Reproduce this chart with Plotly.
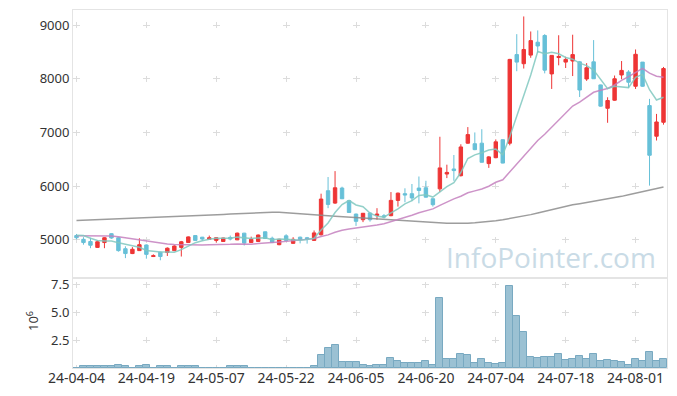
import plotly.graph_objects as go

dates = [
    "24-04-04", "24-04-05", "24-04-08", "24-04-09", "24-04-11", "24-04-12", "24-04-15", "24-04-16",
    "24-04-17", "24-04-18", "24-04-19", "24-04-22", "24-04-23", "24-04-24", "24-04-25", "24-04-26",
    "24-04-29", "24-04-30", "24-05-02", "24-05-03", "24-05-07", "24-05-08", "24-05-09", "24-05-10",
    "24-05-13", "24-05-14", "24-05-16", "24-05-17", "24-05-20", "24-05-21", "24-05-22", "24-05-23",
    "24-05-24", "24-05-27", "24-05-28", "24-05-29", "24-05-30", "24-05-31", "24-06-03", "24-06-04",
    "24-06-05", "24-06-07", "24-06-10", "24-06-11", "24-06-12", "24-06-13", "24-06-14", "24-06-17",
    "24-06-18", "24-06-19", "24-06-20", "24-06-21", "24-06-24", "24-06-25", "24-06-26", "24-06-27",
    "24-06-28", "24-07-01", "24-07-02", "24-07-03", "24-07-04", "24-07-05", "24-07-08", "24-07-09",
    "24-07-10", "24-07-11", "24-07-12", "24-07-15", "24-07-16", "24-07-17", "24-07-18", "24-07-19",
    "24-07-22", "24-07-23", "24-07-24", "24-07-25", "24-07-26", "24-07-29", "24-07-30", "24-07-31",
    "24-08-01", "24-08-02", "24-08-05", "24-08-06", "24-08-07",
]

open_p = [
    5080, 5010, 4970, 4860, 4950, 5115, 5040, 4835, 4745, 4800,
    4905, 4690, 4770, 4765, 4800, 4860, 4950, 5080, 5050, 5010,
    4990, 4970, 5045, 5000, 5125, 4950, 4970, 5150, 5030, 4910,
    5075, 4935, 5050, 5040, 4990, 5095, 5915, 5685, 5965, 5730,
    5480, 5375, 5500, 5455, 5450, 5450, 5735, 5860, 5860, 5965,
    5970, 5765, 5950, 6226, 6320, 6195, 6800, 6790, 6800, 6420,
    6530, 6865, 6800, 8450, 8280, 8440, 8680, 8805, 8090, 8395,
    8310, 8330, 8315, 7995, 8315, 7885, 7450, 7600, 8070, 8125,
    7860, 8310, 7500, 6930, 7190,
]
high_p = [
    5110, 5050, 5040, 4990, 5050, 5125, 5050, 4880, 4865, 5030,
    4915, 4730, 4780, 4860, 4900, 4980, 5065, 5085, 5055, 5080,
    5045, 5040, 5080, 5135, 5130, 5060, 5100, 5155, 5060, 5020,
    5105, 5050, 5060, 5055, 5175, 5860, 6170, 6280, 5990, 5740,
    5490, 5500, 5510, 5590, 5480, 5890, 5880, 5960, 6040, 6180,
    6100, 5770, 6920, 6400, 6580, 6780, 7100, 7000, 7060, 6560,
    6870, 6870, 8370, 8830, 9160, 8880, 8900, 8830, 8440, 8810,
    8410, 8820, 8330, 8290, 8720, 7890, 7655, 8060, 8330, 8160,
    8545, 8310, 7625, 7345, 8220,
]
low_p = [
    5010, 4910, 4845, 4850, 4845, 5020, 4780, 4660, 4735, 4795,
    4650, 4680, 4620, 4700, 4790, 4690, 4945, 4985, 4985, 5000,
    4950, 4965, 4990, 4995, 4895, 4945, 4965, 5020, 4940, 4900,
    4985, 4930, 4935, 4930, 4985, 5080, 5590, 5670, 5760, 5500,
    5260, 5330, 5340, 5375, 5400, 5440, 5620, 5700, 5720, 5680,
    5790, 5620, 5890, 6150, 6100, 6180, 6790, 6670, 6440, 6340,
    6520, 6425, 6760, 8140, 8190, 8390, 8480, 8100, 7810, 8250,
    8200, 8050, 7660, 7960, 7995, 7480, 7180, 7590, 7990, 7830,
    7810, 7850, 6010, 6850, 7145,
]
close_p = [
    5040, 4950, 4900, 4965, 5040, 5035, 4800, 4745, 4825, 4910,
    4730, 4705, 4690, 4845, 4885, 4965, 5055, 4990, 5015, 5040,
    5040, 5035, 5015, 5125, 4940, 5010, 5090, 5025, 4950, 5010,
    4990, 5010, 5005, 5020, 5130, 5760, 5660, 5970, 5765, 5510,
    5345, 5495, 5375, 5480, 5425, 5735, 5870, 5835, 5780, 5920,
    5795, 5655, 6340, 6256, 6290, 6730, 6960, 6680, 6445, 6545,
    6825, 6430, 8360, 8310, 8545, 8710, 8610, 8160, 8435, 8415,
    8360, 8450, 7790, 8205, 8000, 7490, 7595, 8000, 8155, 7935,
    8455, 7860, 6575, 7195, 8190,
]

ma5 = [
    5085, 5080, 5030, 4990, 4979, 4978, 4948, 4917, 4889, 4863,
    4802, 4783, 4772, 4776, 4771, 4818, 4888, 4948, 4982, 5013,
    5028, 5024, 5029, 5051, 5031, 5025, 5036, 5038, 5003, 5017,
    5013, 4997, 4993, 5007, 5031, 5185, 5315, 5508, 5657, 5733,
    5650, 5617, 5498, 5441, 5424, 5502, 5577, 5669, 5729, 5828,
    5840, 5797, 5898, 5993, 6067, 6254, 6515, 6583, 6621, 6672,
    6691, 6585, 6921, 7294, 7694, 8071, 8507, 8467, 8492, 8466,
    8396, 8364, 8290, 8244, 8161, 7987, 7816, 7858, 7848, 7835,
    8028, 8081, 7796, 7604, 7655,
]
ma20 = [
    5075, 5075, 5075, 5075, 5075, 5072, 5060, 5040, 5015, 4990,
    4970, 4950, 4935, 4922, 4915, 4910, 4908, 4907, 4906, 4907,
    4907, 4911, 4917, 4925, 4920, 4918, 4933, 4947, 4953, 4958,
    4971, 4986, 5002, 5011, 5023, 5063, 5093, 5142, 5180, 5203,
    5218, 5241, 5259, 5277, 5301, 5338, 5377, 5417, 5459, 5504,
    5544, 5577, 5643, 5705, 5763, 5812, 5877, 5912, 5946, 5998,
    6072, 6119, 6268, 6409, 6565, 6714, 6851, 6967, 7100, 7225,
    7353, 7493, 7565, 7663, 7748, 7786, 7818, 7884, 7970, 8039,
    8121, 8192, 8103, 8047, 8029,
]
ma_long = [
    5360, 5365, 5369, 5374, 5378, 5382, 5387, 5391, 5396, 5400,
    5405, 5410, 5415, 5420, 5426, 5432, 5439, 5446, 5453, 5460,
    5467, 5474, 5480, 5488, 5496, 5504, 5510, 5514, 5515, 5512,
    5505, 5498, 5489, 5480, 5470, 5460, 5450, 5440, 5432, 5424,
    5416, 5408, 5400, 5392, 5382, 5372, 5362, 5352, 5342, 5333,
    5325, 5320, 5315, 5311, 5308, 5305, 5310, 5318, 5328, 5340,
    5355, 5373, 5395, 5420, 5445, 5470, 5502, 5534, 5566, 5598,
    5630, 5652, 5674, 5696, 5718, 5740, 5760, 5780, 5810, 5839,
    5868, 5897, 5926, 5955, 5985,
]

volume_m = [
    0, 0.15, 0.15, 0.15, 0.15, 0.15, 0.25, 0.15, 0, 0.15,
    0.25, 0, 0.15, 0.15, 0, 0.15, 0.15, 0.15, 0, 0,
    0, 0, 0.15, 0.15, 0.15, 0, 0, 0, 0, 0,
    0, 0, 0, 0, 0.15, 1.15, 1.78, 2.05, 0.51, 0.51,
    0.51, 0.24, 0.15, 0.24, 0.24, 0.87, 0.60, 0.42, 0.42, 0.42,
    0.60, 0.24, 6.29, 0.78, 0.78, 1.23, 1.14, 0.42, 0.78, 0.42,
    0.33, 0.42, 7.37, 4.66, 3.22, 0.96, 0.87, 0.96, 0.96, 1.23,
    0.69, 0.78, 1.05, 0.78, 1.23, 0.60, 0.69, 0.60, 0.51, 0.24,
    0.78, 0.60, 1.41, 0.60, 0.78,
]

x_tick_labels = ["24-04-04", "24-04-19", "24-05-07", "24-05-22", "24-06-05",
                 "24-06-20", "24-07-04", "24-07-18", "24-08-01"]
price_ticks = [5000, 6000, 7000, 8000, 9000]
vol_ticks = [2.5, 5.0, 7.5]
vol_tick_text = ["2.5", "5.0", "7.5"]

RED = "#ee3535"
BLUE = "#67c0d8"
FONT = "Noto Sans"
LINE = "#e4e4e4"
GRID = "#dcdcdc"
TXT = "#333333"

fig = go.Figure()
fig.add_trace(go.Candlestick(
    x=dates, open=open_p, high=high_p, low=low_p, close=close_p,
    increasing=dict(line=dict(color=RED, width=1), fillcolor=RED),
    decreasing=dict(line=dict(color=BLUE, width=1), fillcolor=BLUE),
    xaxis="x", yaxis="y", showlegend=False,
))
fig.add_trace(go.Scatter(x=dates, y=ma_long, mode="lines", xaxis="x", yaxis="y",
                         line=dict(color="rgba(140,140,140,0.85)", width=1.5), showlegend=False))
fig.add_trace(go.Scatter(x=dates, y=ma20, mode="lines", xaxis="x", yaxis="y",
                         line=dict(color="rgba(196,128,190,0.85)", width=1.5), showlegend=False))
fig.add_trace(go.Scatter(x=dates, y=ma5, mode="lines", xaxis="x", yaxis="y",
                         line=dict(color="rgba(128,200,192,0.85)", width=1.5), showlegend=False))
fig.add_trace(go.Bar(x=dates, y=volume_m, xaxis="x2", yaxis="y2",
                     marker=dict(color="#9bc1d3", line=dict(color="#78a9c1", width=1)),
                     showlegend=False))

split = 90 / 358

common_x = dict(type="category", range=[-0.5, 84.5], tickmode="array",
                tickvals=x_tick_labels, ticktext=x_tick_labels,
                showline=True, mirror=True, linecolor=LINE, linewidth=1,
                showgrid=True, gridcolor=GRID, gridwidth=1, ticks="",
                zeroline=False, automargin=False)

fig.update_layout(
    width=677, height=396,
    margin=dict(l=73, r=10, t=10, b=28),
    paper_bgcolor="white", plot_bgcolor="white",
    font=dict(family=FONT, size=13, color=TXT),
    showlegend=False,
    bargap=0,
    xaxis=dict(**common_x, anchor="y", showticklabels=False,
               rangeslider=dict(visible=False),
               griddash="0px,12px,6px,35.75px"),
    xaxis2=dict(**common_x, anchor="y2", matches="x", showticklabels=True,
                griddash="0px,3.87px,6px,17.83px",
                ticklabelstandoff=-3,
                tickfont=dict(size=14, color=TXT)),
    yaxis=dict(domain=[split, 1], range=[4290, 9280], tickvals=price_ticks,
               showline=True, mirror=True, linecolor=LINE, linewidth=1,
               showgrid=True, gridcolor=GRID, griddash="6.99px,62.89px",
               zeroline=False, ticks="", automargin=False,
               tickfont=dict(size=13, color=TXT)),
    yaxis2=dict(domain=[0, split], range=[0, 8.12], tickvals=vol_ticks, ticktext=vol_tick_text,
                showline=True, mirror=True, linecolor=LINE, linewidth=1,
                showgrid=True, gridcolor=GRID, griddash="6.99px,62.89px",
                zeroline=False, ticks="", automargin=False,
                tickfont=dict(size=13, color=TXT)),
    annotations=[
        dict(text="InfoPointer.com", xref="paper", yref="paper",
             x=0.805, y=0.31, xanchor="center", yanchor="middle",
             showarrow=False,
             font=dict(family="Open Sans", size=28, color="#c9dbe6")),
        dict(text="10<sup>6</sup>", xref="paper", yref="paper",
             x=(32 - 73) / 594, y=(368 - 321) / 358, xanchor="center", yanchor="middle",
             textangle=-90, showarrow=False,
             font=dict(family=FONT, size=13, color=TXT)),
    ],
)

fig.write_html("out.html",
               config={"displayModeBar": False},
               post_script="document.body.style.margin='0';document.body.style.overflow='hidden';")
